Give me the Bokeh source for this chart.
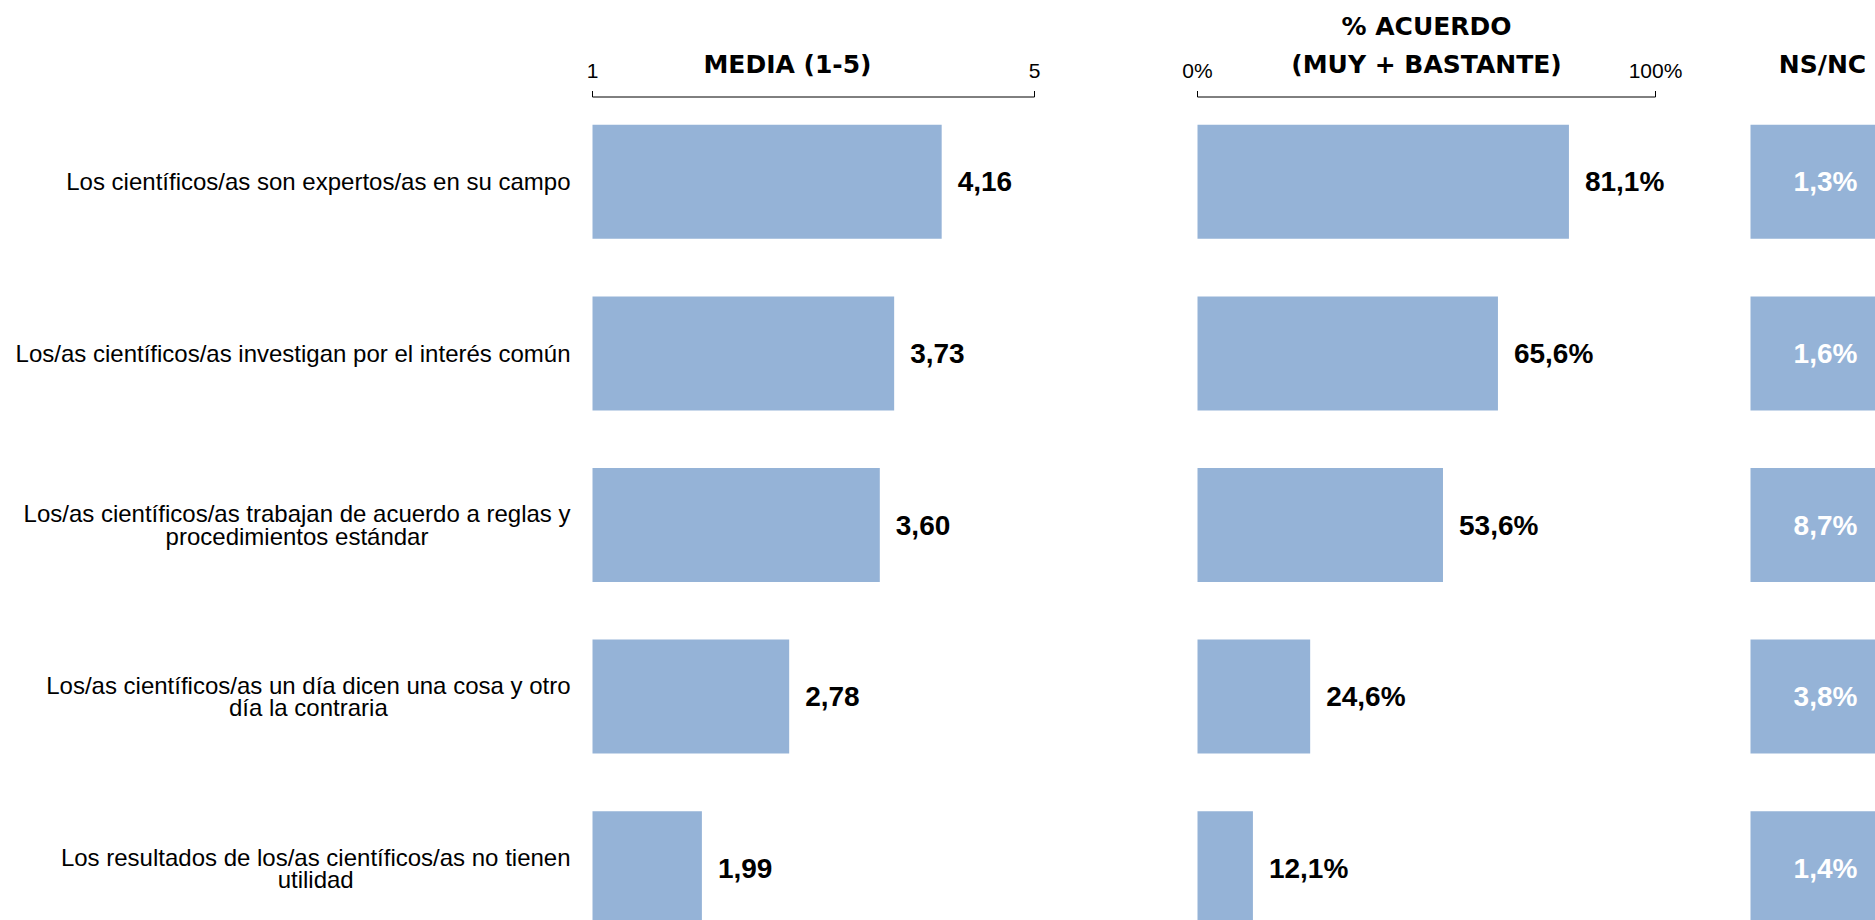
from bokeh.plotting import figure
from bokeh.models import Range1d, ColumnDataSource
from bokeh.core.properties import value
from bokeh.embed import file_html
from bokeh.resources import INLINE

# ---------------- data ----------------
categories = [
    "Los científicos/as son expertos/as en su campo",
    "Los/as científicos/as investigan por el interés común",
    "Los/as científicos/as trabajan de acuerdo a reglas y\nprocedimientos estándar",
    "Los/as científicos/as un día dicen una cosa y otro\ndía la contraria",
    "Los resultados de los/as científicos/as no tienen\nutilidad",
]
media = [4.16, 3.73, 3.60, 2.78, 1.99]
acuerdo = [81.1, 65.6, 53.6, 24.6, 12.1]
nsnc = [1.3, 1.6, 8.7, 3.8, 1.4]

media_ticks = [1, 5]
media_tick_labels = ["1", "5"]
acuerdo_ticks = [0, 100]
acuerdo_tick_labels = ["0%", "100%"]

header_media = "MEDIA (1-5)"
header_acuerdo = ["% ACUERDO", "(MUY + BASTANTE)"]
header_nsnc = "NS/NC"

# ---------------- layout ----------------
W, H = 1875, 920
BAR_COLOR = "#95B3D7"
LABEL_FONT = value("Liberation Sans")
HEAD_FONT = value("DejaVu Sans")

FIRST_BAR_PX = 181.3   # centre of first bar, px from top of frame
PITCH = 171.6
BAR_H_PX = 114.0
LABEL_RIGHT = 570.0

MEDIA_PX = (592.0, 1034.0)    # px of value 1 and 5
PCT_PX = (1197.0, 1655.0)     # px of 0 and 100
NS_BOX_LEFT = 1750.0
NS_LABEL_X = 1825.0
AXIS_Y = 96.5


def lin_range(v0, px0, v1, px1, width):
    k = (px1 - px0) / (v1 - v0)
    s = v0 - px0 / k
    return Range1d(start=s, end=s + width / k)


y_top = -FIRST_BAR_PX / PITCH
y_bottom = y_top + H / PITCH

p = figure(width=W, height=H, output_backend="svg", toolbar_location=None,
           x_range=Range1d(0, W), y_range=Range1d(start=y_bottom, end=y_top),
           x_axis_type=None, y_axis_type=None, min_border=0)
p.outline_line_color = None
p.grid.visible = False
p.background_fill_color = "white"
p.border_fill_color = "white"

p.extra_x_ranges = {
    "media": lin_range(media_ticks[0], MEDIA_PX[0], media_ticks[1], MEDIA_PX[1], W),
    "pct": lin_range(acuerdo_ticks[0], PCT_PX[0], acuerdo_ticks[1], PCT_PX[1], W),
}
p.extra_y_ranges = {"px": Range1d(start=H, end=0)}

# Arial (Liberation Sans) advance widths, 1/1000 em
AW = dict(zip("abcdefghijklmnopqrstuvwxyz",
              [556, 556, 500, 556, 556, 278, 556, 556, 222, 222, 500, 222, 833,
               556, 556, 556, 556, 333, 500, 278, 556, 500, 722, 500, 500, 500]))
AW.update({" ": 278, "/": 278, "L": 556, "á": 556, "é": 556, "í": 278,
           "ó": 556, "ú": 556})
FS = 24


def text_w(s):
    return sum(AW.get(c, 556) for c in s) / 1000.0 * FS


idx = list(range(len(categories)))
label_x = [LABEL_RIGHT - max(text_w(l) for l in c.split("\n")) / 2 for c in categories]

src = ColumnDataSource(dict(
    idx=idx, cat=categories, label_x=label_x,
    media=media, acuerdo=acuerdo, nsnc=nsnc,
    media_lbl=[f"{v:.2f}".replace(".", ",") for v in media],
    acuerdo_lbl=[f"{v:.1f}%".replace(".", ",") for v in acuerdo],
    nsnc_lbl=[f"{v:.1f}%".replace(".", ",") for v in nsnc],
))

bar_h = BAR_H_PX / PITCH

# category labels
p.text(x="label_x", y="idx", text="cat", source=src, text_align="center",
       text_baseline="middle", text_font=LABEL_FONT, text_font_size=f"{FS}px",
       text_color="black", text_line_height=0.82)

# media bars
p.hbar(y="idx", left=media_ticks[0], right="media", height=bar_h, source=src,
       x_range_name="media", fill_color=BAR_COLOR, line_color=None)
p.text(x="media", y="idx", text="media_lbl", source=src, x_range_name="media",
       x_offset=16, text_align="left", text_baseline="middle",
       text_font=LABEL_FONT, text_font_style="bold", text_font_size="28px",
       text_color="black")

# acuerdo bars
p.hbar(y="idx", left=acuerdo_ticks[0], right="acuerdo", height=bar_h, source=src,
       x_range_name="pct", fill_color=BAR_COLOR, line_color=None)
p.text(x="acuerdo", y="idx", text="acuerdo_lbl", source=src, x_range_name="pct",
       x_offset=16, text_align="left", text_baseline="middle",
       text_font=LABEL_FONT, text_font_style="bold", text_font_size="28px",
       text_color="black")

# NS/NC boxes
p.hbar(y="idx", left=NS_BOX_LEFT, right=NS_BOX_LEFT + 240, height=bar_h,
       source=src, fill_color=BAR_COLOR, line_color=None)
p.text(x=NS_LABEL_X, y="idx", text="nsnc_lbl", source=src, text_align="center",
       text_baseline="middle", text_font=LABEL_FONT, text_font_style="bold",
       text_font_size="28px", text_color="white")

# bracket axes
for rname, ticks, tlabels in (("media", media_ticks, media_tick_labels),
                              ("pct", acuerdo_ticks, acuerdo_tick_labels)):
    p.segment(x0=[ticks[0]], y0=[AXIS_Y], x1=[ticks[1]], y1=[AXIS_Y],
              x_range_name=rname, y_range_name="px", line_color="black", line_width=1)
    p.segment(x0=ticks, y0=[AXIS_Y] * 2, x1=ticks, y1=[AXIS_Y - 6] * 2,
              x_range_name=rname, y_range_name="px", line_color="black", line_width=1)
    p.text(x=ticks, y=[70] * 2, text=tlabels, x_range_name=rname,
           y_range_name="px", text_align="center", text_baseline="middle",
           text_font=LABEL_FONT, text_font_size="21px", text_color="black")

# headers
HEAD_SIZE = "25px"
p.text(x=[787], y=[64], text=[header_media], y_range_name="px",
       text_align="center", text_baseline="middle", text_font=HEAD_FONT,
       text_font_style="bold", text_font_size=HEAD_SIZE, text_color="black")
p.text(x=[1426, 1426], y=[26, 64], text=header_acuerdo, y_range_name="px",
       text_align="center", text_baseline="middle", text_font=HEAD_FONT,
       text_font_style="bold", text_font_size=HEAD_SIZE, text_color="black")
p.text(x=[1822], y=[64], text=[header_nsnc], y_range_name="px",
       text_align="center", text_baseline="middle", text_font=HEAD_FONT,
       text_font_style="bold", text_font_size=HEAD_SIZE, text_color="black")

open("out.html", "w").write(file_html(p, INLINE))
